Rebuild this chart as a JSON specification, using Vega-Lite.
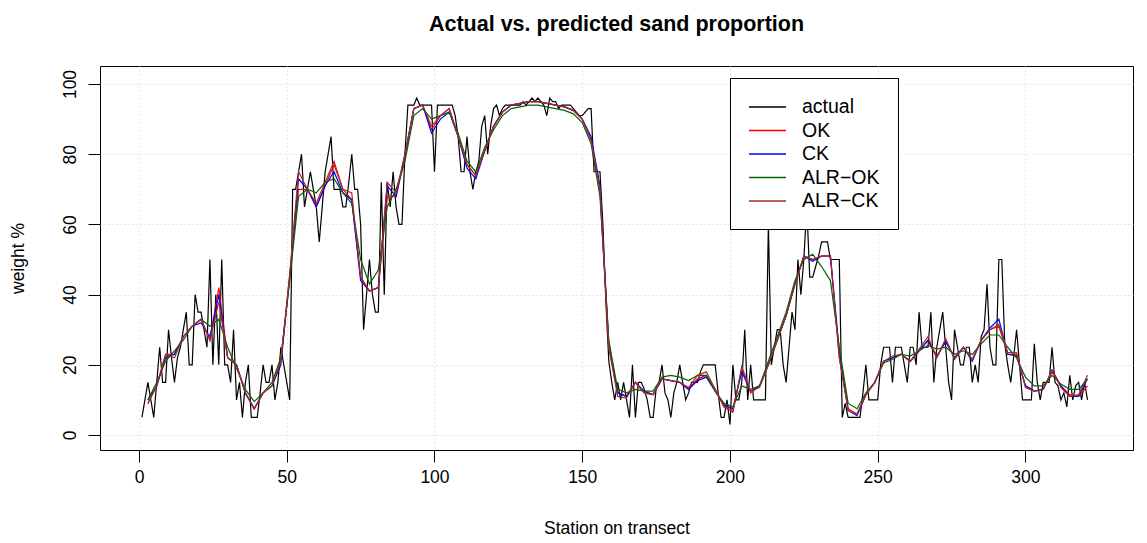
{
"$schema": "https://vega.github.io/schema/vega-lite/v6.json",
"width": 1033, "height": 384,
"autosize": {"type": "none"},
"padding": {"left": 100, "top": 66, "right": 14, "bottom": 93},
"background": "white",
"title": {"text": "Actual vs. predicted sand proportion", "fontSize": 21.5, "fontWeight": "bold", "font": "Liberation Sans", "color": "black", "anchor": "middle", "offset": 31},
"config": {
  "view": {"stroke": "black", "strokeWidth": 1},
  "font": "Liberation Sans",
  "axis": {"domain": false, "tickColor": "black", "tickSize": 12, "labelColor": "black", "labelFontSize": 17.5, "titleColor": "black", "titleFontSize": 17.5, "titleFontWeight": "normal", "gridColor": "#d3d3d3", "gridDash": [1, 3], "labelFont": "Liberation Sans", "titleFont": "Liberation Sans"}
},
"data": {"values": [
{"x":1,"a":5},{"x":2,"a":10},{"x":3,"a":15,"ok":9,"ck":10,"aok":10,"ack":9},
{"x":4,"a":10},{"x":5,"a":5},{"x":6,"a":15,"ok":14,"ck":14,"aok":15,"ack":14},
{"x":7,"a":25},{"x":8,"a":15},{"x":9,"a":15,"ok":23,"ck":22,"aok":21,"ack":23},
{"x":10,"a":30},{"x":11,"a":22},{"x":12,"a":15,"ok":23,"ck":23,"aok":24,"ack":22},
{"x":13,"a":22},{"x":14,"a":25},{"x":15,"a":30,"ok":28,"ck":28,"aok":27,"ack":28},
{"x":16,"a":35},{"x":17,"a":20},{"x":18,"a":20,"ok":31,"ck":31,"aok":31,"ack":31},
{"x":19,"a":40},{"x":20,"a":35},{"x":21,"a":35,"ok":33,"ck":32,"aok":33,"ack":33},
{"x":22,"a":30},{"x":23,"a":25},{"x":24,"a":50,"ok":27,"ck":28,"aok":31,"ack":27},
{"x":25,"a":20},{"x":26,"a":40},{"x":27,"a":20,"ok":42,"ck":40,"aok":33,"ack":38},
{"x":28,"a":50},{"x":29,"a":20},{"x":30,"a":20,"ok":22,"ck":22,"aok":25,"ack":22},
{"x":31,"a":15},{"x":32,"a":30},{"x":33,"a":10,"ok":20,"ck":20,"aok":19,"ack":20},
{"x":34,"a":15},{"x":35,"a":5},{"x":36,"a":15,"ok":12,"ck":12,"aok":13,"ack":12},
{"x":37,"a":20},{"x":38,"a":5},{"x":39,"a":5,"ok":7.5,"ck":7.5,"aok":9.5,"ack":7.5},
{"x":40,"a":5},{"x":41,"a":12},{"x":42,"a":20,"ok":12,"ck":12,"aok":12,"ack":12},
{"x":43,"a":15},{"x":44,"a":15},{"x":45,"a":20,"ok":14,"ck":14,"aok":15,"ack":14},
{"x":46,"a":10},{"x":47,"a":15},{"x":48,"a":25,"ok":21,"ck":20,"aok":22,"ack":21},
{"x":49,"a":20},{"x":50,"a":15},{"x":51,"a":10,"ok":45,"ck":45,"aok":44,"ack":46},
{"x":52,"a":70},{"x":53,"a":70},{"x":54,"a":75,"ok":70,"ck":73,"aok":68,"ack":75},
{"x":55,"a":80},{"x":56,"a":65},{"x":57,"a":70,"ok":70,"ck":70,"aok":70,"ack":70},
{"x":58,"a":75},{"x":59,"a":70},{"x":60,"a":65,"ok":65,"ck":65,"aok":69,"ack":66},
{"x":61,"a":55},{"x":62,"a":65},{"x":63,"a":75,"ok":71,"ck":71,"aok":72,"ack":72},
{"x":64,"a":80},{"x":65,"a":85},{"x":66,"a":70,"ok":77,"ck":75,"aok":73,"ack":78},
{"x":67,"a":70},{"x":68,"a":70},{"x":69,"a":65,"ok":70,"ck":69,"aok":69,"ack":70},
{"x":70,"a":65},{"x":71,"a":72},{"x":72,"a":80,"ok":67,"ck":67,"aok":66,"ack":69},
{"x":73,"a":70},{"x":74,"a":70},{"x":75,"a":60,"ok":45,"ck":44,"aok":50,"ack":45},
{"x":76,"a":30},{"x":77,"a":40},{"x":78,"a":50,"ok":41,"ck":41,"aok":43,"ack":41},
{"x":79,"a":40},{"x":80,"a":35},{"x":81,"a":35,"ok":42,"ck":42,"aok":47,"ack":42},
{"x":82,"a":72},{"x":83,"a":40},{"x":84,"a":72,"ok":68,"ck":71,"aok":65,"ack":72},
{"x":85,"a":65},{"x":86,"a":75},{"x":87,"a":65,"ok":68,"ck":68,"aok":70,"ack":69},
{"x":88,"a":60},{"x":89,"a":60},{"x":90,"a":80,"ok":79,"ck":80,"aok":78,"ack":80},
{"x":91,"a":94},{"x":92,"a":94},{"x":93,"a":94,"ok":93,"ck":93,"aok":91,"ack":93},
{"x":94,"a":96},{"x":95,"a":94},{"x":96,"a":94,"ok":94,"ck":94,"aok":93,"ack":94},
{"x":97,"a":94},{"x":98,"a":94},{"x":99,"a":94,"ok":87,"ck":86,"aok":90,"ack":88},
{"x":100,"a":75},{"x":101,"a":94},{"x":102,"a":94,"ok":91,"ck":90,"aok":91,"ack":91},
{"x":103,"a":94},{"x":104,"a":94},{"x":105,"a":94,"ok":93,"ck":92,"aok":92,"ack":93},
{"x":106,"a":94},{"x":107,"a":91},{"x":108,"a":85,"ok":85,"ck":85,"aok":86,"ack":85},
{"x":109,"a":75},{"x":110,"a":75},{"x":111,"a":85,"ok":77,"ck":76,"aok":78,"ack":77},
{"x":112,"a":75},{"x":113,"a":70},{"x":114,"a":75,"ok":74,"ck":73,"aok":75,"ack":74},
{"x":115,"a":78},{"x":116,"a":88},{"x":117,"a":91,"ok":81,"ck":81,"aok":82,"ack":81},
{"x":118,"a":80},{"x":119,"a":88},{"x":120,"a":93,"ok":88,"ck":88,"aok":87,"ack":88},
{"x":121,"a":94},{"x":122,"a":91},{"x":123,"a":93,"ok":92,"ck":92,"aok":91,"ack":92},
{"x":124,"a":94},{"x":125,"a":94},{"x":126,"a":94,"ok":94,"ck":94,"aok":93,"ack":94},
{"x":127,"a":94},{"x":128,"a":94},{"x":129,"a":94,"ok":94.5,"ck":94.5,"aok":93.5,"ack":94.5},
{"x":130,"a":95},{"x":131,"a":94},{"x":132,"a":95,"ok":95,"ck":95,"aok":94,"ack":95},
{"x":133,"a":96},{"x":134,"a":95},{"x":135,"a":96,"ok":95,"ck":95,"aok":94,"ack":95},
{"x":136,"a":95},{"x":137,"a":94},{"x":138,"a":91,"ok":94.5,"ck":94.5,"aok":93.5,"ack":94.5},
{"x":139,"a":96},{"x":140,"a":95},{"x":141,"a":95,"ok":94,"ck":94,"aok":93,"ack":94},
{"x":142,"a":93},{"x":143,"a":94},{"x":144,"a":94,"ok":93.5,"ck":93.5,"aok":92.5,"ack":93.5},
{"x":145,"a":94},{"x":146,"a":94},{"x":147,"a":93,"ok":92.5,"ck":92.5,"aok":91.5,"ack":92.5},
{"x":148,"a":92},{"x":149,"a":91},{"x":150,"a":91,"ok":90,"ck":90,"aok":89,"ack":90},
{"x":151,"a":92},{"x":152,"a":93},{"x":153,"a":93,"ok":84,"ck":85,"aok":83,"ack":84},
{"x":154,"a":75},{"x":155,"a":75},{"x":156,"a":75,"ok":70,"ck":71,"aok":68,"ack":70},
{"x":157,"a":60},{"x":158,"a":38},{"x":159,"a":21,"ok":25,"ck":26,"aok":27,"ack":25},
{"x":160,"a":15},{"x":161,"a":10},{"x":162,"a":15,"ok":12,"ck":12,"aok":13,"ack":11},
{"x":163,"a":10},{"x":164,"a":15},{"x":165,"a":10,"ok":11,"ck":11,"aok":12,"ack":10.5},
{"x":166,"a":5},{"x":167,"a":20},{"x":168,"a":5,"ok":15,"ck":15,"aok":13,"ack":15},
{"x":169,"a":15},{"x":170,"a":15},{"x":171,"a":13,"ok":12,"ck":12.5,"aok":12.5,"ack":12},
{"x":172,"a":10},{"x":173,"a":5},{"x":174,"a":5,"ok":11.5,"ck":11.5,"aok":12.5,"ack":11.5},
{"x":175,"a":13},{"x":176,"a":15},{"x":177,"a":20,"ok":16,"ck":16,"aok":16.5,"ack":16},
{"x":178,"a":12},{"x":179,"a":10},{"x":180,"a":5,"ok":15.5,"ck":15.5,"aok":17,"ack":15.5},
{"x":181,"a":12},{"x":182,"a":15},{"x":183,"a":20,"ok":15,"ck":15,"aok":16.5,"ack":15},
{"x":184,"a":15},{"x":185,"a":10},{"x":186,"a":12,"ok":13,"ck":13,"aok":15.5,"ack":13.5},
{"x":187,"a":15},{"x":188,"a":15},{"x":189,"a":15,"ok":16,"ck":15.5,"aok":17,"ack":17},
{"x":190,"a":18},{"x":191,"a":20},{"x":192,"a":20,"ok":17,"ck":16.5,"aok":17,"ack":18},
{"x":193,"a":20},{"x":194,"a":20},{"x":195,"a":20,"ok":13,"ck":12.5,"aok":12.5,"ack":13},
{"x":196,"a":12},{"x":197,"a":5},{"x":198,"a":5,"ok":8,"ck":8.5,"aok":9,"ack":8},
{"x":199,"a":10},{"x":200,"a":3},{"x":201,"a":20,"ok":7,"ck":7.5,"aok":8,"ack":6.5},
{"x":202,"a":10},{"x":203,"a":10},{"x":204,"a":15,"ok":19,"ck":18,"aok":14,"ack":19.5},
{"x":205,"a":30},{"x":206,"a":10},{"x":207,"a":20,"ok":12,"ck":12.5,"aok":13,"ack":12.5},
{"x":208,"a":10},{"x":209,"a":10},{"x":210,"a":10,"ok":14,"ck":14,"aok":14,"ack":13.5},
{"x":211,"a":10},{"x":212,"a":10},{"x":213,"a":60,"ok":20,"ck":20,"aok":21,"ack":20},
{"x":214,"a":20},{"x":215,"a":25},{"x":216,"a":30,"ok":27,"ck":27,"aok":28,"ack":27},
{"x":217,"a":30},{"x":218,"a":20},{"x":219,"a":15,"ok":34,"ck":34,"aok":35,"ack":34},
{"x":220,"a":25},{"x":221,"a":35},{"x":222,"a":30,"ok":43,"ck":43,"aok":44,"ack":43},
{"x":223,"a":50},{"x":224,"a":40},{"x":225,"a":50,"ok":51,"ck":51,"aok":50,"ack":51},
{"x":226,"a":65},{"x":227,"a":45},{"x":228,"a":45,"ok":50,"ck":49.5,"aok":51.5,"ack":50},
{"x":229,"a":48},{"x":230,"a":51},{"x":231,"a":55,"ok":51,"ck":51,"aok":48,"ack":51},
{"x":232,"a":55},{"x":233,"a":55},{"x":234,"a":50,"ok":51,"ck":51,"aok":44,"ack":51},
{"x":235,"a":50},{"x":236,"a":50},{"x":237,"a":50,"ok":22,"ck":24,"aok":25,"ack":22},
{"x":238,"a":5},{"x":239,"a":9},{"x":240,"a":5,"ok":7.5,"ck":7,"aok":9,"ack":7},
{"x":241,"a":5},{"x":242,"a":5},{"x":243,"a":5,"ok":6,"ck":5.5,"aok":7.5,"ack":6},
{"x":244,"a":5},{"x":245,"a":12},{"x":246,"a":20,"ok":11.5,"ck":11.5,"aok":12,"ack":11.5},
{"x":247,"a":10},{"x":248,"a":10},{"x":249,"a":10,"ok":15,"ck":15,"aok":15,"ack":15},
{"x":250,"a":10},{"x":251,"a":20},{"x":252,"a":25,"ok":21,"ck":21,"aok":20.5,"ack":21},
{"x":253,"a":25},{"x":254,"a":25},{"x":255,"a":15,"ok":22,"ck":22,"aok":21.5,"ack":22.5},
{"x":256,"a":25},{"x":257,"a":25},{"x":258,"a":25,"ok":23,"ck":23,"aok":23,"ack":23},
{"x":259,"a":20},{"x":260,"a":15},{"x":261,"a":25,"ok":21,"ck":21,"aok":22.5,"ack":21},
{"x":262,"a":25},{"x":263,"a":20},{"x":264,"a":35,"ok":24,"ck":24,"aok":24,"ack":24.5},
{"x":265,"a":25},{"x":266,"a":25},{"x":267,"a":25,"ok":27,"ck":27,"aok":25.5,"ack":28},
{"x":268,"a":35},{"x":269,"a":15},{"x":270,"a":25,"ok":22,"ck":22.5,"aok":24.5,"ack":22},
{"x":271,"a":30},{"x":272,"a":35},{"x":273,"a":25,"ok":27,"ck":26.5,"aok":25,"ack":27.5},
{"x":274,"a":15},{"x":275,"a":10},{"x":276,"a":30,"ok":22,"ck":22,"aok":23,"ack":21.5},
{"x":277,"a":25},{"x":278,"a":20},{"x":279,"a":20,"ok":25,"ck":25,"aok":24,"ack":25},
{"x":280,"a":25},{"x":281,"a":25},{"x":282,"a":15,"ok":21.5,"ck":21,"aok":23,"ack":21.5},
{"x":283,"a":20},{"x":284,"a":15},{"x":285,"a":28,"ok":27,"ck":27,"aok":26,"ack":27},
{"x":286,"a":30},{"x":287,"a":43},{"x":288,"a":25,"ok":30,"ck":30.5,"aok":28.5,"ack":30},
{"x":289,"a":20},{"x":290,"a":20},{"x":291,"a":50,"ok":31,"ck":33,"aok":28.5,"ack":31.5},
{"x":292,"a":50},{"x":293,"a":26},{"x":294,"a":20,"ok":23,"ck":23,"aok":25,"ack":23.5},
{"x":295,"a":15},{"x":296,"a":22},{"x":297,"a":30,"ok":23,"ck":22.5,"aok":22,"ack":23.5},
{"x":298,"a":20},{"x":299,"a":10},{"x":300,"a":10,"ok":14,"ck":14,"aok":16.5,"ack":13.5},
{"x":301,"a":10},{"x":302,"a":10},{"x":303,"a":26,"ok":12.5,"ck":12.5,"aok":14,"ack":12.5},
{"x":304,"a":15},{"x":305,"a":10},{"x":306,"a":15,"ok":13,"ck":13,"aok":14,"ack":13},
{"x":307,"a":15},{"x":308,"a":15},{"x":309,"a":25,"ok":18,"ck":18.5,"aok":17,"ack":18.5},
{"x":310,"a":15},{"x":311,"a":14},{"x":312,"a":10,"ok":14,"ck":14,"aok":14.5,"ack":13.5},
{"x":313,"a":12},{"x":314,"a":8},{"x":315,"a":17,"ok":11.5,"ck":11,"aok":13,"ack":11},
{"x":316,"a":10},{"x":317,"a":14},{"x":318,"a":15,"ok":11,"ck":11,"aok":13,"ack":11.5},
{"x":319,"a":10},{"x":320,"a":15},{"x":321,"a":10,"ok":14,"ck":16,"aok":16,"ack":17}
]},
"transform": [
  {"fold": ["a", "ok", "ck", "aok", "ack"], "as": ["k", "v"]},
  {"filter": "isValid(datum.v)"}
],
"encoding": {
  "x": {"field": "x", "type": "quantitative", "scale": {"domain": [-13.2, 336.4], "nice": false, "zero": false},
        "axis": {"values": [0, 50, 100, 150, 200, 250, 300], "title": "Station on transect", "labelPadding": 6, "titlePadding": 34, "grid": true}},
  "y": {"field": "v", "type": "quantitative", "scale": {"domain": [-4.27, 105.13], "nice": false, "zero": false},
        "axis": {"values": [0, 20, 40, 60, 80, 100], "title": "weight %", "labelAngle": -90, "labelAlign": "center", "labelBaseline": "bottom", "labelPadding": 9, "titlePadding": 34, "grid": true}},
  "color": {"field": "k", "type": "nominal",
    "scale": {"domain": ["a", "ok", "ck", "aok", "ack"], "range": ["#000000", "#ff0000", "#0000ff", "#006400", "#a52a2a"]},
    "legend": {"orient": "none", "legendX": 630, "legendY": 12, "title": null, "symbolType": "M-1,0H2.7", "symbolSize": 400, "symbolStrokeWidth": 1.4, "labelFontSize": 19.5, "labelFont": "Liberation Sans", "labelColor": "black", "strokeColor": "black", "fillColor": "white", "padding": 18, "rowPadding": 2.5, "labelOffset": 32,
      "labelExpr": "{'a':'actual','ok':'OK','ck':'CK','aok':'ALR\u2212OK','ack':'ALR\u2212CK'}[datum.label]"}}
},
"layer": [
  {"transform": [{"filter": "datum.k == 'a'"}], "mark": {"type": "line", "strokeWidth": 1.2}},
  {"transform": [{"filter": "datum.k == 'ok'"}], "mark": {"type": "line", "strokeWidth": 1.2}},
  {"transform": [{"filter": "datum.k == 'ck'"}], "mark": {"type": "line", "strokeWidth": 1.2}},
  {"transform": [{"filter": "datum.k == 'aok'"}], "mark": {"type": "line", "strokeWidth": 1.2}},
  {"transform": [{"filter": "datum.k == 'ack'"}], "mark": {"type": "line", "strokeWidth": 1.2}}
]
}
